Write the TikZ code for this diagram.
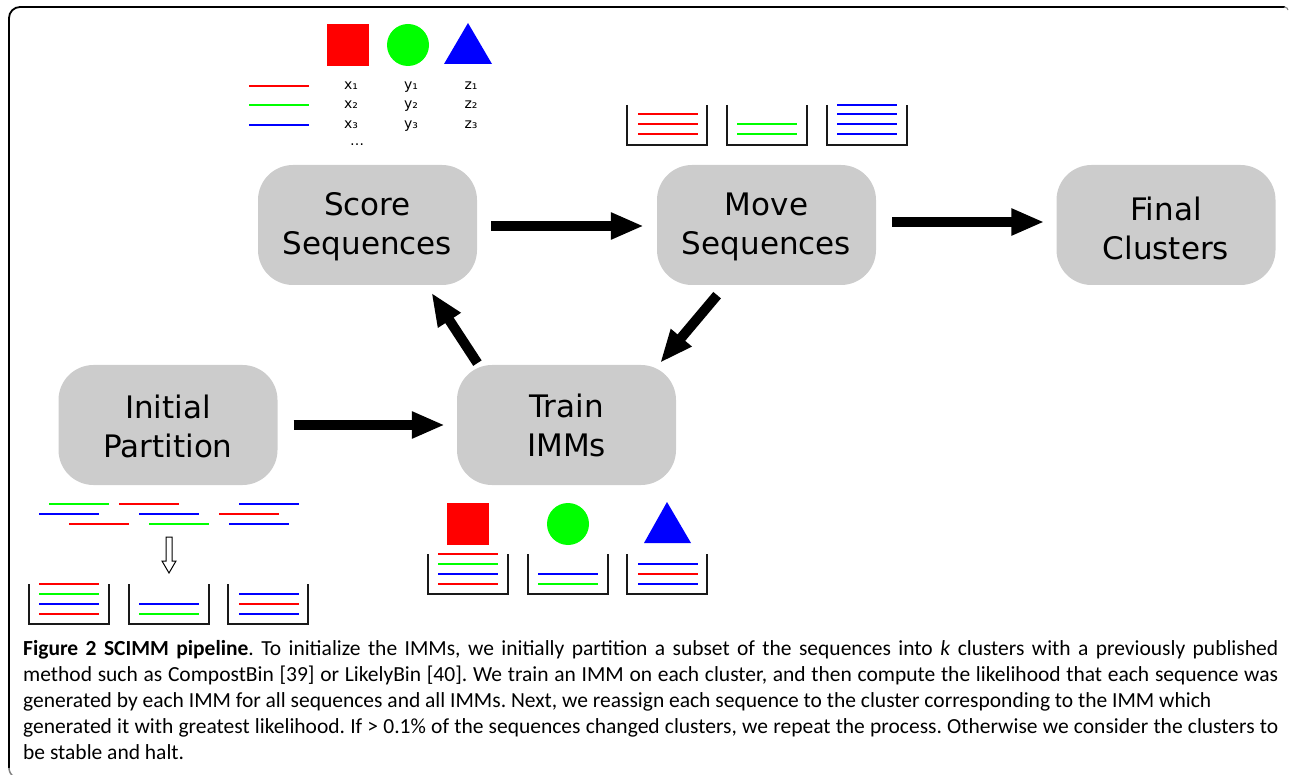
\documentclass[tikz,border=0pt]{standalone}
\usepackage{fontspec}
\setmainfont{DejaVu Sans}
\newfontfamily\capfont{Carlito}
\usetikzlibrary{arrows.meta,calc}
\definecolor{boxgray}{HTML}{CCCCCC}
\definecolor{pr}{HTML}{FF0000}
\definecolor{pg}{HTML}{00FF00}
\definecolor{pb}{HTML}{0000FF}
\begin{document}
\begin{tikzpicture}[x=1pt,y=-1pt,
  stage/.style={rectangle, rounded corners=35pt, fill=boxgray, minimum width=219pt, minimum height=120pt, inner sep=0pt},
  stagetext/.style={inner sep=0pt, align=center, font=\fontsize{31}{39}\selectfont},
  flow/.style={line width=10pt, -{Triangle[length=33pt,width=25pt]}},
  seq/.style={line width=2pt},
  wall/.style={line width=2pt, black!90},
  lbl/.style={inner sep=0pt, anchor=base, font=\fontsize{14}{14}\selectfont},
  capline/.style={inner sep=0pt, anchor=base west, font=\capfont\fontsize{21.5}{26}\selectfont\frenchspacing},
  bucket/.pic={\draw[wall] (0,0) -- (0,40) -- (80,40) -- (80,0);}
]
\useasboundingbox (0,0) rectangle (1290,775);
% frame
\draw[line width=1.8pt] (9,768) -- (9,18) arc[start angle=180, end angle=90, radius=11pt] -- (1285,7);
\draw[line width=1pt, gray] (1284,7) -- (1287,8) -- (1288,10);
\draw[line width=1.5pt, gray] (9,768) arc[start angle=180, end angle=240, radius=10pt];

% stages
\node[stage] (score) at (367.5,225) {};
\node[stage] (move) at (766.5,225) {};
\node[stage] (final) at (1166,225) {};
\node[stage] (init) at (168,425) {};
\node[stage] (train) at (566.5,425) {};
\node[stagetext] (score-t) at ($(score)+(0,2)$) {Score\\Sequences};
\node[stagetext] (move-t) at ($(move)+(0,2)$) {Move\\Sequences};
\node[stagetext] (final-t) at ($(final)+(0,3)$) {Final\\Clusters};
\node[stagetext] (init-t) at ($(init)+(0,1)$) {Initial\\Partition};
\node[stagetext] (train-t) at (train) {Train\\IMMs};

% arrows
\draw[flow, shorten <=14pt, shorten >=13pt] ([yshift=-1pt]score.east) -- ([yshift=-1pt]move.west);
\draw[flow, shorten <=16pt, shorten >=12pt] ([yshift=3pt]move.east) -- ([yshift=3pt]final.west);
\draw[flow, shorten <=16pt, shorten >=12pt] (init.east) -- (train.west);
\draw[flow, shorten <=2pt, shorten >=9pt] ($(train.north)+(-88,0)$) -- ($(score.south)+(59,0)$);
\draw[flow, shorten <=13pt, shorten >=2.5pt] ($(move.south)+(-41,0)$) -- ($(train.north)+(92,0)$);

% legend top
\fill[pr] (327,24) rectangle (369,66);
\fill[pg] (408,45) circle[radius=21pt];
\fill[pb] (444,64) -- (492,64) -- (468,23) -- cycle;
\draw[seq,pr] (249,86) -- (309,86);
\draw[seq,pg] (249,105) -- (309,105);
\draw[seq,pb] (249,125) -- (309,125);
\node[lbl] (x1) at (351,90) {x₁};
\node[lbl] (x2) at (351,109) {x₂};
\node[lbl] (x3) at (351,129) {x₃};
\node[lbl] (y1) at (411,90) {y₁};
\node[lbl] (y2) at (411,109) {y₂};
\node[lbl] (y3) at (411,129) {y₃};
\node[lbl] (z1) at (471,90) {z₁};
\node[lbl] (z2) at (471,109) {z₂};
\node[lbl] (z3) at (471,129) {z₃};
\node[lbl] (dots) at (357,146) {…};

% top-right buckets
\pic at (627,105) {bucket};
\pic at (727,105) {bucket};
\pic at (827,105) {bucket};
\draw[seq,pr] (638,114) -- (698,114);
\draw[seq,pr] (638,124) -- (698,124);
\draw[seq,pr] (638,134) -- (698,134);
\draw[seq,pg] (737,124) -- (797,124);
\draw[seq,pg] (737,134) -- (797,134);
\draw[seq,pb] (837,105) -- (897,105);
\draw[seq,pb] (837,114) -- (897,114);
\draw[seq,pb] (837,124) -- (897,124);
\draw[seq,pb] (837,134) -- (897,134);

% bottom-left scattered sequences
\draw[seq,pg] (49,504) -- (109,504);
\draw[seq,pr] (119,504) -- (179,504);
\draw[seq,pb] (239,504) -- (299,504);
\draw[seq,pb] (39,514) -- (99,514);
\draw[seq,pb] (139,514) -- (199,514);
\draw[seq,pr] (219,514) -- (279,514);
\draw[seq,pr] (69,524) -- (129,524);
\draw[seq,pg] (149,524) -- (209,524);
\draw[seq,pb] (229,524) -- (289,524);
\draw[line width=1pt] (166,537) -- (172,537) -- (172,561) -- (176,561) -- (169,573) -- (162,561) -- (166,561) -- cycle;

% bottom-left buckets
\pic at (29,584) {bucket};
\pic at (129,584) {bucket};
\pic at (228,584) {bucket};
\draw[seq,pr] (39,584) -- (99,584);
\draw[seq,pg] (39,594) -- (99,594);
\draw[seq,pb] (39,604) -- (99,604);
\draw[seq,pr] (39,614) -- (99,614);
\draw[seq,pb] (139,604) -- (199,604);
\draw[seq,pg] (139,614) -- (199,614);
\draw[seq,pb] (239,594) -- (299,594);
\draw[seq,pr] (239,604) -- (299,604);
\draw[seq,pb] (239,614) -- (299,614);

% bottom-middle models and buckets
\fill[pr] (447,503) rectangle (489,545);
\fill[pg] (568,524) circle[radius=21pt];
\fill[pb] (644,543) -- (691,543) -- (667,502) -- cycle;
\pic at (428,554) {bucket};
\pic at (528,554) {bucket};
\pic at (627,554) {bucket};
\draw[seq,pr] (438,554) -- (498,554);
\draw[seq,pg] (438,564) -- (498,564);
\draw[seq,pb] (438,574) -- (498,574);
\draw[seq,pr] (438,584) -- (498,584);
\draw[seq,pb] (538,574) -- (598,574);
\draw[seq,pg] (538,584) -- (598,584);
\draw[seq,pb] (638,564) -- (698,564);
\draw[seq,pr] (638,574) -- (698,574);
\draw[seq,pb] (638,584) -- (698,584);

% caption
\node[capline] (cap1) at (23,655) {\makebox[1255pt][s]{\textbf{Figure 2 SCIMM pipeline}. To initialize the IMMs, we initially partition a subset of the sequences into \textit{k} clusters with a previously published}};
\node[capline] (cap2) at (23,681) {\makebox[1255pt][s]{method such as CompostBin [39] or LikelyBin [40]. We train an IMM on each cluster, and then compute the likelihood that each sequence was}};
\node[capline] (cap3) at (23,707) {generated by each IMM for all sequences and all IMMs. Next, we reassign each sequence to the cluster corresponding to the IMM which};
\node[capline] (cap4) at (23,733) {\makebox[1255pt][s]{generated it with greatest likelihood. If > 0.1\% of the sequences changed clusters, we repeat the process. Otherwise we consider the clusters to}};
\node[capline] (cap5) at (23,759) {be stable and halt.};
\end{tikzpicture}
\end{document}
